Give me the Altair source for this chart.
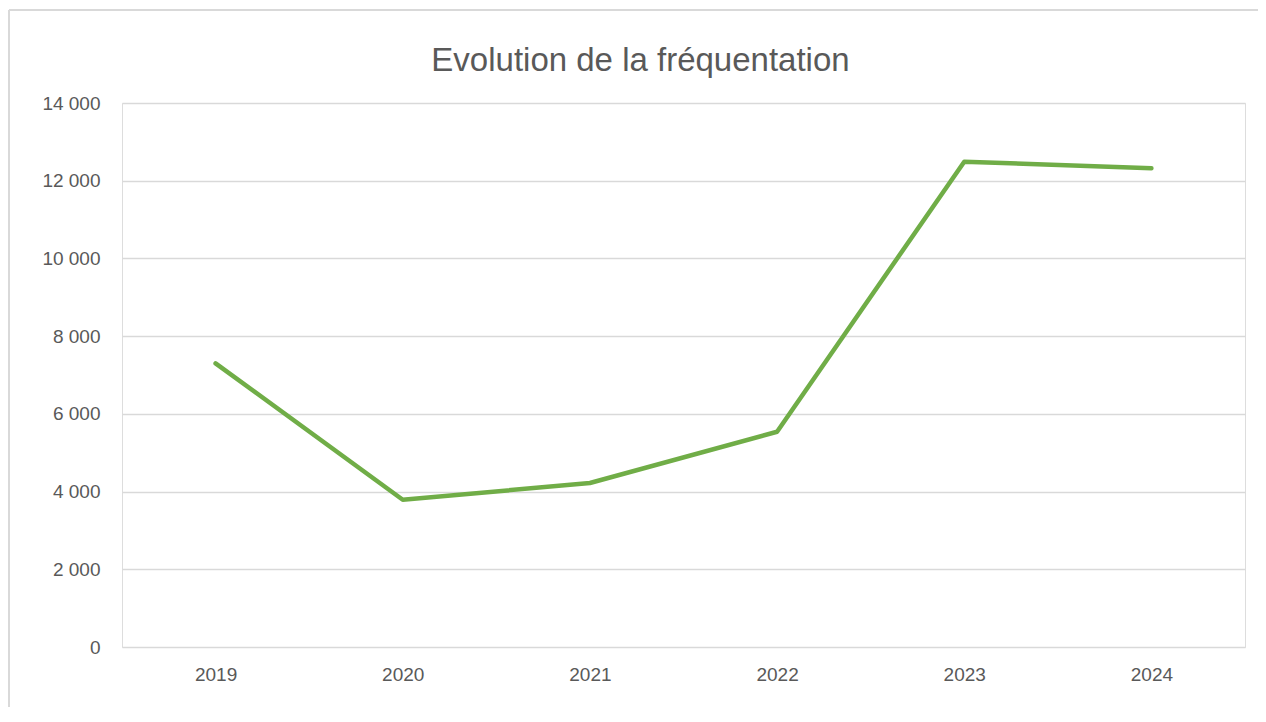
import altair as alt
import pandas as pd

years = ["2019", "2020", "2021", "2022", "2023", "2024"]
visits = [7300, 3790, 4220, 5540, 12490, 12320]

df = pd.DataFrame({"annee": years, "frequentation": visits})

W, H = 1123, 544
FONT = "Liberation Sans"
GREY = "#595959"

line = alt.Chart(df).mark_line(color="#70ad47", strokeWidth=4.5, strokeCap="round", strokeJoin="round").encode(
    x=alt.X("annee:N", sort=years, title=None,
            scale=alt.Scale(type="point", padding=0.5),
            axis=alt.Axis(labelAngle=0, ticks=False, domain=False, grid=False,
                          labelFont=FONT, labelFontSize=19, labelColor=GREY, labelPadding=18)),
    y=alt.Y("frequentation:Q", title=None,
            scale=alt.Scale(domain=[0, 14000], nice=False),
            axis=alt.Axis(values=[0, 2000, 4000, 6000, 8000, 10000, 12000, 14000],
                          ticks=False, domain=False, gridColor="#d9d9d9", gridWidth=1.5,
                          labelFont=FONT, labelFontSize=19, labelColor=GREY, labelPadding=22,
                          labelExpr="datum.value >= 1000 ? floor(datum.value/1000) + ' 000' : '0'")),
)

border_top = alt.Chart(df).mark_rule(color="#d9d9d9", strokeWidth=1.5).encode(
    x=alt.value(-113), x2=alt.value(W + 60), y=alt.value(-93)
)
border_left = alt.Chart(df).mark_rule(color="#d9d9d9", strokeWidth=1.5).encode(
    x=alt.value(-113), y=alt.value(-93), y2=alt.value(H + 80)
)

chart = alt.layer(border_top, border_left, line).properties(
    width=W, height=H,
    title=alt.TitleParams("Evolution de la fréquentation", font=FONT, fontSize=33,
                          fontWeight="normal", color=GREY, anchor="middle", dx=-43,
                          baseline="alphabetic", offset=-95),
    autosize=alt.AutoSizeParams(type="none"),
    padding={"left": 114, "top": 95, "right": 13, "bottom": 60},
).configure_view(stroke=None).configure(background="white")

chart.save("out.html", embed_options={"renderer": "svg", "actions": False})
